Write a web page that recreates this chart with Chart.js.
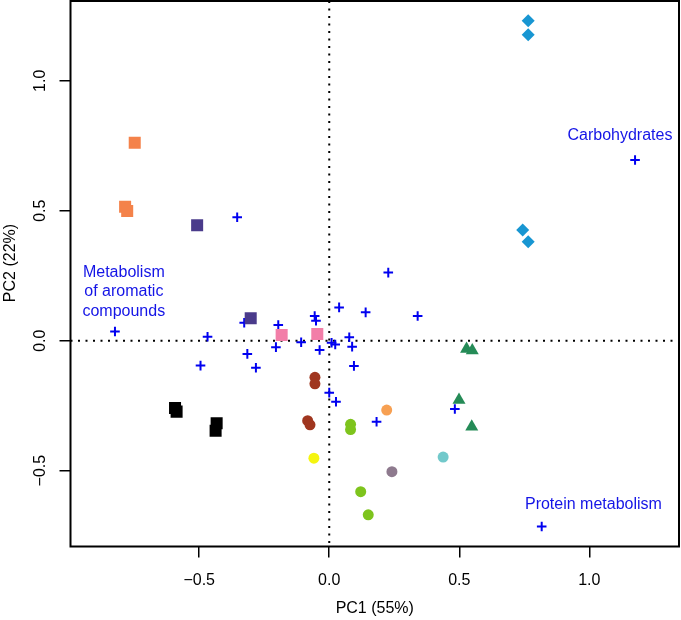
<!DOCTYPE html>
<html>
<head>
<meta charset="utf-8">
<script src="https://cdn.jsdelivr.net/npm/chart.js@4/dist/chart.umd.min.js"></script>
<style>
  html, body { margin: 0; padding: 0; background: #fff; }
</style>
</head>
<body>
<canvas id="myChart" width="681" height="620"></canvas>
<script>
// axis ticks
const xTicks = [-0.5, 0, 0.5, 1.0];
const yTicks = [-0.5, 0, 0.5, 1.0];

// sample scores, one pair of arrays per group
const diamondX = [0.765, 0.765, 0.744, 0.765];
const diamondY = [1.231, 1.177, 0.426, 0.381];
const orangeSqX = [-0.748, -0.785, -0.777];
const orangeSqY = [0.762, 0.515, 0.499];
const purpleSqX = [-0.508, -0.302];
const purpleSqY = [0.444, 0.086];
const pinkSqX = [-0.183, -0.046];
const pinkSqY = [0.022, 0.026];
const blackSqX = [-0.593, -0.587, -0.433, -0.437];
const blackSqY = [-0.259, -0.273, -0.318, -0.347];
const brownX = [-0.055, -0.055, -0.083, -0.074];
const brownY = [-0.141, -0.166, -0.308, -0.324];
const yellowX = [-0.059];
const yellowY = [-0.452];
const greenX = [0.082, 0.082, 0.121, 0.150];
const greenY = [-0.322, -0.342, -0.581, -0.670];
const orangeX = [0.221];
const orangeY = [-0.267];
const mauveX = [0.241];
const mauveY = [-0.504];
const cyanX = [0.438];
const cyanY = [-0.448];
const triX = [0.528, 0.550, 0.499, 0.548];
const triY = [-0.032, -0.038, -0.228, -0.331];

// variable loadings (crosses)
const varX = [-0.824, -0.468, -0.327, -0.315, -0.282, -0.495, -0.196, -0.205, -0.108, -0.056,
              -0.051, -0.037, 0.009, 0.023, 0.038, 0.077, 0.088, 0.095, 0.140, 0.000,
              0.026, 0.227, 0.340, 0.182, 0.483, 0.817, -0.354, 1.176];
const varY = [0.035, 0.015, 0.069, -0.051, -0.104, -0.096, 0.060, -0.025, -0.006, 0.095,
              0.077, -0.036, -0.008, -0.015, 0.128, 0.013, -0.023, -0.097, 0.109, -0.200,
              -0.235, 0.262, 0.095, -0.312, -0.263, -0.715, 0.475, 0.695];

// text labels
const labelText = [["Carbohydrates"], ["Protein metabolism"], ["Metabolism", "of aromatic", "compounds"]];
const labelX = [1.118, 1.016, -0.790];
const labelY = [0.791, -0.632, 0.188];

const yTitle = "PC2 (22%)";

function pts(xs, ys) {
    return xs.map((x, i) => ({x: x, y: ys[i]}));
}

function group(xs, ys, color, style, radius) {
    return {
        data: pts(xs, ys),
        pointStyle: style,
        pointRadius: radius,
        backgroundColor: color,
        borderColor: color,
        borderWidth: 0
    };
}

const FONT = "'Liberation Sans', Arial, Helvetica, sans-serif";

const datasets = [
    group(orangeSqX, orangeSqY, "#F4824A", "rect", 8.5),
    group(purpleSqX, purpleSqY, "#4A3B8B", "rect", 8.5),
    group(pinkSqX, pinkSqY, "#F27EA8", "rect", 8.5),
    group(blackSqX, blackSqY, "#000000", "rect", 8.5),
    group(diamondX, diamondY, "#1896D2", "rectRot", 6.5),
    group(brownX, brownY, "#A0361F", "circle", 5.5),
    group(yellowX, yellowY, "#F5F50F", "circle", 5.5),
    group(greenX, greenY, "#7EC41D", "circle", 5.5),
    group(orangeX, orangeY, "#F7A052", "circle", 5.5),
    group(mauveX, mauveY, "#8E7A8E", "circle", 5.5),
    group(cyanX, cyanY, "#72C9CB", "circle", 5.5),
    group(triX, triY, "#258B57", "triangle", 7.5),
    {
        data: pts(varX, varY),
        pointStyle: "cross",
        pointRadius: 4.8,
        borderColor: "#0000F0",
        backgroundColor: "#0000F0",
        borderWidth: 2
    }
];

const overlay = {
    id: "overlay",
    beforeDatasetsDraw(chart) {
        const ctx = chart.ctx;
        const a = chart.chartArea;
        const x0 = chart.scales.x.getPixelForValue(0);
        const y0 = chart.scales.y.getPixelForValue(0);
        ctx.save();
        ctx.strokeStyle = "#000";
        ctx.lineWidth = 2;
        ctx.setLineDash([2, 5.5]);
        ctx.beginPath();
        ctx.moveTo(x0, a.top);
        ctx.lineTo(x0, a.bottom);
        ctx.moveTo(a.left, y0);
        ctx.lineTo(a.right, y0);
        ctx.stroke();
        ctx.restore();
    },
    afterDraw(chart) {
        const ctx = chart.ctx;
        const a = chart.chartArea;
        ctx.save();
        ctx.strokeStyle = "#000";
        ctx.lineWidth = 2;
        ctx.strokeRect(a.left, a.top, a.right - a.left, a.bottom - a.top);

        // y axis title, R puts it a bit above the box centre
        ctx.fillStyle = "#000";
        ctx.font = "16px " + FONT;
        ctx.textAlign = "center";
        ctx.textBaseline = "middle";
        ctx.translate(11, 263);
        ctx.rotate(-Math.PI / 2);
        ctx.fillText(yTitle, 0, 0);
        ctx.restore();

        ctx.save();
        ctx.fillStyle = "#1414E6";
        ctx.font = "16px " + FONT;
        ctx.textAlign = "center";
        ctx.textBaseline = "middle";
        labelText.forEach((lines, i) => {
            const cx = chart.scales.x.getPixelForValue(labelX[i]);
            const cy = chart.scales.y.getPixelForValue(labelY[i]);
            lines.forEach((t, j) => {
                ctx.fillText(t, cx, cy + (j - (lines.length - 1) / 2) * 19.7);
            });
        });
        ctx.restore();
    }
};

function fmt(v) {
    return (v < 0 ? "\u2212" : "") + Math.abs(v).toFixed(1);
}

const ctx = document.getElementById("myChart").getContext("2d");
const myChart = new Chart(ctx, {
    type: "scatter",
    data: {datasets: datasets},
    options: {
        responsive: false,
        animation: false,
        devicePixelRatio: 1,
        layout: {autoPadding: false, padding: {top: 1, right: 2, left: 0, bottom: 0}},
        plugins: {legend: {display: false}, tooltip: {enabled: false}},
        scales: {
            x: {
                type: "linear",
                min: -0.995,
                max: 1.345,
                afterBuildTicks: s => { s.ticks = xTicks.map(v => ({value: v})); },
                afterFit: s => { s.height = 73.5; s.paddingLeft = 0; s.paddingRight = 0; },
                grid: {drawOnChartArea: false, drawTicks: true, tickLength: 11, color: "#000", lineWidth: 1.5},
                border: {display: false},
                ticks: {color: "#000", font: {size: 16, family: FONT}, padding: 13, callback: v => fmt(v), maxRotation: 0},
                title: {display: true, text: "PC1 (55%)", color: "#000", font: {size: 16, family: FONT}, padding: {top: 0, bottom: 2}}
            },
            y: {
                type: "linear",
                min: -0.792,
                max: 1.307,
                afterBuildTicks: s => { s.ticks = yTicks.map(v => ({value: v})); },
                afterFit: s => { s.width = 70.5; s.paddingTop = 0; s.paddingBottom = 0; },
                grid: {drawOnChartArea: false, drawTicks: true, tickLength: 11, color: "#000", lineWidth: 1.5},
                border: {display: false},
                ticks: {color: "#000", font: {size: 16, family: FONT}, padding: 3, callback: v => fmt(v),
                        minRotation: 90, maxRotation: 90, crossAlign: "center"}
            }
        }
    },
    plugins: [overlay]
});
</script>
</body>
</html>
